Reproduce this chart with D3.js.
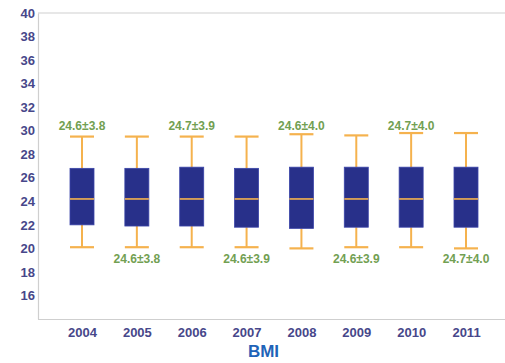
<!DOCTYPE html>
<html>
<head>
<meta charset="utf-8">
<script src="https://cdn.jsdelivr.net/npm/d3@7"></script>
<style>
  html, body { margin: 0; padding: 0; background: #ffffff; }
  svg { display: block; }
</style>
</head>
<body>
<svg id="chart" width="505" height="363"></svg>
<script>
// BMI distribution per survey year
const years = ["2004", "2005", "2006", "2007", "2008", "2009", "2010", "2011"];
const whiskerLow  = [20.1, 20.1, 20.1, 20.1, 20.0, 20.1, 20.1, 20.0];
const quartile1   = [22.0, 21.9, 21.9, 21.8, 21.7, 21.8, 21.8, 21.8];
const medians     = [24.2, 24.2, 24.2, 24.2, 24.2, 24.2, 24.2, 24.2];
const quartile3   = [26.8, 26.8, 26.9, 26.8, 26.9, 26.9, 26.9, 26.9];
const whiskerHigh = [29.5, 29.5, 29.5, 29.5, 29.7, 29.6, 29.8, 29.8];
const means       = [24.6, 24.6, 24.7, 24.6, 24.6, 24.6, 24.7, 24.7];
const sds         = [3.8, 3.8, 3.9, 3.9, 4.0, 3.9, 4.0, 4.0];
const yTicks = [16, 18, 20, 22, 24, 26, 28, 30, 32, 34, 36, 38, 40];
const title = "BMI";

const svg = d3.select("#chart");
const plotLeft = 38, plotRight = 505, plotTop = 13, plotBottom = 319;

const x = d3.scalePoint().domain(years).range([82, 466]);
const y = d3.scaleLinear().domain([14, 40]).range([plotBottom, plotTop]);

// label rows sit at a fixed level above / below the boxes
const labelAbove = 30.1, labelBelow = 18.75;

const boxW = 24;
const axisColor = "#47478a";
const frameColor = "#cfcfcf";
const boxFill = "#28308a";
const whiskerColor = "#f5b24e";
const labelColor = "#72a052";
const font = "Arial, 'Liberation Sans', sans-serif";

// frame
svg.append("line").attr("x1", plotLeft).attr("x2", plotRight).attr("y1", plotTop).attr("y2", plotTop)
  .attr("stroke", frameColor).attr("stroke-width", 1.2);

// y axis
const yAxis = svg.append("g").attr("transform", `translate(${plotLeft},0)`)
  .call(d3.axisLeft(y).tickValues(yTicks).tickSize(0).tickPadding(3));
yAxis.select(".domain").attr("stroke", frameColor).attr("stroke-width", 1.2);
yAxis.selectAll("text")
  .attr("fill", axisColor).attr("font-family", font)
  .attr("font-size", 13).attr("font-weight", "bold");

// x axis
const xAxis = svg.append("g").attr("transform", `translate(0,${plotBottom})`)
  .call(d3.axisBottom(x).tickSize(0).tickPadding(9));
xAxis.select(".domain").attr("d", `M${plotLeft},0.5H${plotRight}`)
  .attr("stroke", frameColor).attr("stroke-width", 1.2);
xAxis.selectAll("text")
  .attr("fill", axisColor).attr("font-family", font)
  .attr("font-size", 13).attr("font-weight", "bold");

// boxes
const data = years.map((yr, i) => ({
  yr, lo: whiskerLow[i], q1: quartile1[i], med: medians[i], q3: quartile3[i],
  hi: whiskerHigh[i], mean: means[i], sd: sds[i], i
}));

const g = svg.append("g").selectAll("g").data(data).join("g")
  .attr("transform", d => `translate(${x(d.yr)},0)`);

// whisker stems
g.append("line").attr("x1", 0).attr("x2", 0)
  .attr("y1", d => y(d.hi)).attr("y2", d => y(d.q3))
  .attr("stroke", whiskerColor).attr("stroke-width", 2);
g.append("line").attr("x1", 0).attr("x2", 0)
  .attr("y1", d => y(d.q1)).attr("y2", d => y(d.lo))
  .attr("stroke", whiskerColor).attr("stroke-width", 2);
// caps
g.append("line").attr("x1", -boxW / 2).attr("x2", boxW / 2)
  .attr("y1", d => y(d.hi)).attr("y2", d => y(d.hi))
  .attr("stroke", whiskerColor).attr("stroke-width", 2.2);
g.append("line").attr("x1", -boxW / 2).attr("x2", boxW / 2)
  .attr("y1", d => y(d.lo)).attr("y2", d => y(d.lo))
  .attr("stroke", whiskerColor).attr("stroke-width", 2.2);
// box
g.append("rect").attr("x", -boxW / 2).attr("width", boxW)
  .attr("y", d => y(d.q3)).attr("height", d => y(d.q1) - y(d.q3))
  .attr("fill", boxFill).attr("stroke", "#3a44a8").attr("stroke-width", 0.8);
// median
g.append("line").attr("x1", -boxW / 2).attr("x2", boxW / 2)
  .attr("y1", d => y(d.med)).attr("y2", d => y(d.med))
  .attr("stroke", whiskerColor).attr("stroke-width", 1.6);

// mean ± sd labels, alternating above and below
g.append("text")
  .attr("text-anchor", "middle")
  .attr("y", d => d.i % 2 === 0 ? y(labelAbove) : y(labelBelow))
  .attr("fill", labelColor)
  .attr("font-family", font)
  .attr("font-size", 12).attr("font-weight", "bold")
  .text(d => `${d.mean.toFixed(1)}±${d.sd.toFixed(1)}`);

// title
svg.append("text").attr("x", 263.5).attr("y", 357).attr("text-anchor", "middle")
  .attr("fill", "#1f63b8").attr("font-family", font)
  .attr("font-size", 17).attr("font-weight", "bold").text(title);
</script>
</body>
</html>
